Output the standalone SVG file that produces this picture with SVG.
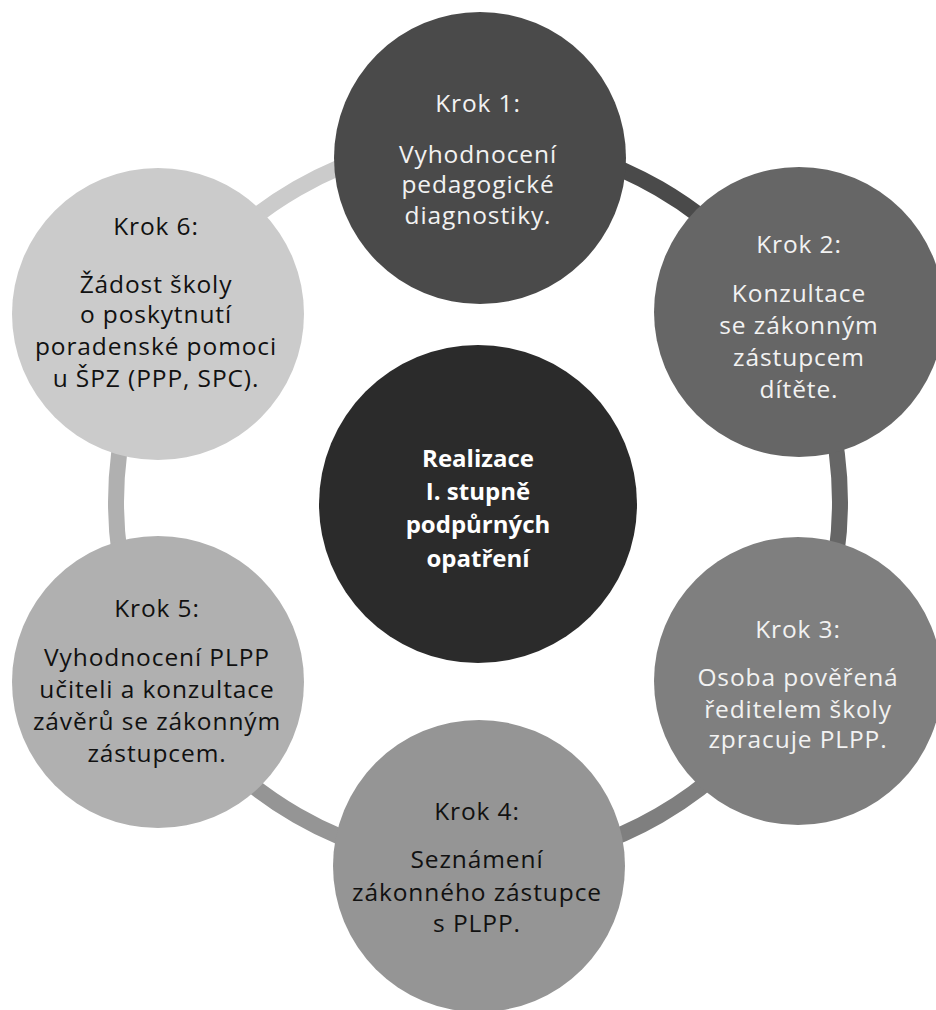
<svg xmlns="http://www.w3.org/2000/svg" width="936" height="1010" viewBox="0 0 936 1010">
<style>
.ring{fill:none;stroke-width:16;stroke-linecap:butt}
text{font-family:"Open Sans","Noto Sans","Liberation Sans",sans-serif;font-size:24.5px;letter-spacing:0.9px;text-anchor:middle;font-weight:400}
.lt{fill:#f2f2f2}
.dk{fill:#111111}
.ctr{fill:#ffffff;font-weight:700;font-size:24px;letter-spacing:0}
</style>
<rect width="936" height="1010" fill="#ffffff"/>
<g id="connectors">
<path class="ring" stroke="#4a4a4a" d="M478 140 A362 362 0 0 1 791.5 321"/>
<path class="ring" stroke="#666666" d="M791.5 321 A362 362 0 0 1 791.5 683"/>
<path class="ring" stroke="#7f7f7f" d="M791.5 683 A362 362 0 0 1 478 864"/>
<path class="ring" stroke="#959595" d="M478 864 A362 362 0 0 1 164.5 683"/>
<path class="ring" stroke="#b0b0b0" d="M164.5 683 A362 362 0 0 1 164.5 321"/>
<path class="ring" stroke="#cbcbcb" d="M164.5 321 A362 362 0 0 1 478 140"/>
</g>
<g id="center">
<circle cx="478" cy="504" r="159" fill="#2b2b2b"/>
<text class="ctr" x="478" y="467">Realizace</text>
<text class="ctr" x="478" y="500">I. stupně</text>
<text class="ctr" x="478" y="533">podpůrných</text>
<text class="ctr" x="478" y="567">opatření</text>
</g>
<g id="krok1">
<circle cx="480" cy="158" r="146" fill="#4a4a4a"/>
<text class="lt" x="478" y="112">Krok 1:</text>
<text class="lt" x="478" y="163">Vyhodnocení</text>
<text class="lt" x="478" y="193">pedagogické</text>
<text class="lt" x="478" y="224">diagnostiky.</text>
</g>
<g id="krok2">
<circle cx="799" cy="312" r="145" fill="#666666"/>
<text class="lt" x="799" y="253">Krok 2:</text>
<text class="lt" x="799" y="302">Konzultace</text>
<text class="lt" x="799" y="334">se zákonným</text>
<text class="lt" x="799" y="366">zástupcem</text>
<text class="lt" x="799" y="398">dítěte.</text>
</g>
<g id="krok3">
<circle cx="798" cy="681" r="144" fill="#7f7f7f"/>
<text class="lt" x="798" y="638">Krok 3:</text>
<text class="lt" x="798" y="686">Osoba pověřená</text>
<text class="lt" x="798" y="718">ředitelem školy</text>
<text class="lt" x="798" y="748">zpracuje PLPP.</text>
</g>
<g id="krok4">
<circle cx="479" cy="866" r="146" fill="#959595"/>
<text class="dk" x="477" y="820">Krok 4:</text>
<text class="dk" x="477" y="868">Seznámení</text>
<text class="dk" x="477" y="901">zákonného zástupce</text>
<text class="dk" x="477" y="932">s PLPP.</text>
</g>
<g id="krok5">
<circle cx="158" cy="682" r="146" fill="#b0b0b0"/>
<text class="dk" x="157" y="617">Krok 5:</text>
<text class="dk" x="157" y="666">Vyhodnocení PLPP</text>
<text class="dk" x="157" y="698">učiteli a konzultace</text>
<text class="dk" x="157" y="730">závěrů se zákonným</text>
<text class="dk" x="157" y="762">zástupcem.</text>
</g>
<g id="krok6">
<circle cx="158" cy="314" r="146" fill="#cbcbcb"/>
<text class="dk" x="156" y="235">Krok 6:</text>
<text class="dk" x="156" y="293">Žádost školy</text>
<text class="dk" x="156" y="323">o poskytnutí</text>
<text class="dk" x="156" y="355">poradenské pomoci</text>
<text class="dk" x="156" y="387">u ŠPZ (PPP, SPC).</text>
</g>
</svg>
